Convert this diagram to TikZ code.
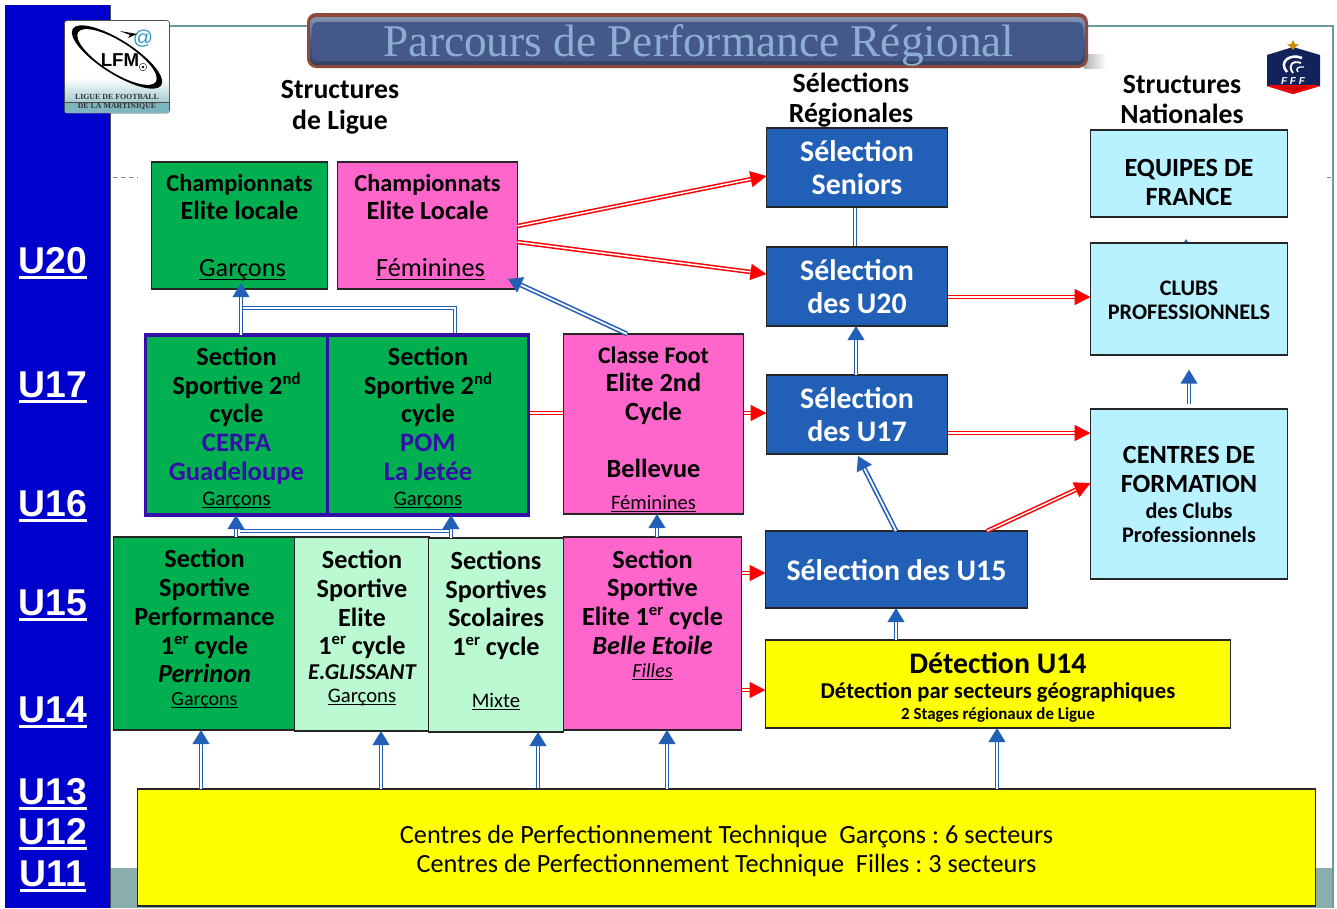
\documentclass[tikz,border=0pt]{standalone}
\usepackage{fontspec}
\setmainfont{Carlito}
\newfontfamily\arl{Liberation Sans}
\newfontfamily\tms{Liberation Serif}
\usetikzlibrary{arrows.meta,calc,shapes.geometric,shadings}
\pgfdeclarelayer{back}\pgfdeclarelayer{under}
\pgfsetlayers{back,under,main}
\definecolor{stripblue}{HTML}{0000CC}
\definecolor{mblue}{HTML}{225FB6}
\definecolor{lgreen}{HTML}{00B050}
\definecolor{pgreen}{HTML}{BBF9D2}
\definecolor{mpink}{HTML}{FF66CC}
\definecolor{mcyan}{HTML}{B8F1FF}
\definecolor{mpurple}{HTML}{3410A8}
\definecolor{band}{HTML}{8CADAD}
\definecolor{frameline}{HTML}{6E9A9A}
\definecolor{titlefill}{HTML}{44598A}
\definecolor{titletext}{HTML}{8CAED3}
\definecolor{titleedge}{HTML}{8E4B3A}
\definecolor{navy}{HTML}{12235B}
\definecolor{myel}{HTML}{FFFF00}
\definecolor{mred}{HTML}{FF0000}
\definecolor{logoband}{HTML}{7FB5BE}
\newdimen\bxu \bxu=0.75pt
\newcommand\fs[1]{\fontsize{#1}{#1}\selectfont}
\newcommand\Ln[2]{\vskip#1\bxu\hbox to 0pt{\hss\smash{#2}\hss}}
\newcommand\ulx[1]{\setbox0=\hbox{#1}\rlap{\rule[-0.16em]{\wd0}{0.055em}}\box0}
\newcommand\ulage[1]{\setbox0=\hbox{#1}\rlap{\rule[-4.2pt]{\wd0}{2.2pt}}\box0}
\newcommand\sups[1]{\raisebox{0.36em}{\fontsize{12.5}{12}\selectfont #1}}
\newcommand\bx[8]{%
  \pgfmathsetlengthmacro{\bxdy}{(#7+1-(#3+#5)/2)*0.75pt}%
  \node[box,#6,minimum width={(#4-#2)*0.75pt},minimum height={(#5-#3)*0.75pt}] (#1) at ({(#2+#4-1)/2},{(#3+#5)/2})
    {\raisebox{-\bxdy}[0pt][0pt]{\vtop{\hsize=0pt\offinterlineskip\frenchspacing#8}}};}
\tikzset{
  box/.style={draw=black!85,line width=0.9pt,inner sep=0pt,outer sep=0pt,font=\fs{19.7}\bfseries,text=black},
  green/.style={fill=lgreen},
  pale/.style={fill=pgreen},
  pink/.style={fill=mpink},
  cyanb/.style={fill=mcyan},
  yel/.style={fill=myel},
  sel/.style={fill=mblue,text=white,font=\fs{22.4}\bfseries},
  sect/.style={fill=lgreen,draw=mpurple,line width=2.6pt},
  head/.style={inner sep=0pt,align=center,font=\fs{20.8}\bfseries},
  age/.style={inner sep=0pt,anchor=base,text=white,font=\fs{28}\arl\bfseries},
  bbase/.style={draw=mblue,line width=1.2pt,double=white,double distance=1.3pt},
  bl/.style={bbase,-{Triangle[length=10.5pt,width=12.5pt,fill=mblue]}},
  rbase/.style={draw=mred,line width=1.15pt,double=white,double distance=1.1pt},
  rl/.style={rbase,-{Triangle[length=12pt,width=12pt,fill=mred]}},
  x=0.75pt,y=-0.75pt
}
\begin{document}
\begin{tikzpicture}
\useasboundingbox (0,0) rectangle (1337,908);
\begin{pgfonlayer}{back}
\fill[white] (0,0) rectangle (1337,908);
\fill[band] (110,868) rectangle (1333,908);
\draw[frameline,line width=0.8pt] (170,26) -- (1333,26) -- (1333,908);
\fill[stripblue] (5,5) rectangle (110,908);
\draw[black!70,line width=0.6pt] (110.5,5) -- (110.5,908);
\draw[gray,dashed,line width=0.5pt] (113,177) -- (138,177);
\draw[gray,dashed,line width=0.5pt] (1327,177) -- (1333,177);
\shade[left color=gray!60,right color=white] (1084,54) rectangle (1106,68);
\end{pgfonlayer}
% title
\fill[titleedge,rounded corners=7pt] (307,13) rectangle (1088,68);
\shade[rounded corners=5pt,top color=titlefill!65!white,bottom color=titlefill!75!black,middle color=titlefill] (310,17) rectangle (1085,65);
\fill[titlefill,rounded corners=4pt] (312,22) rectangle (1083,61);
\node[inner sep=0pt,anchor=base,text=titletext,font=\tms\fontsize{34}{34}\selectfont] (title) at (699,56.5) {Parcours de Performance Régional};
% LFM logo
\draw[black!70,line width=0.5pt,rounded corners=2pt,fill=white] (64.5,20.5) rectangle (169.5,113);
\shade[top color=white,bottom color=logoband!70!white] (65,78) rectangle (169,102);
\fill[logoband] (65,102) rectangle (169,112.5);
\draw[black!70,line width=0.4pt] (65,102) -- (169,102);
\fill[black,rotate around={-32.5:(117,57)}] (117,57) ellipse (52.5 and 17);
\fill[white,rotate around={-32.5:(117,57)}] (117,57) ellipse (46 and 15.2);
\node[inner sep=0pt,font=\arl\bfseries\fontsize{14}{14}\selectfont] (lfm) at (120,60) {LFM};
\node[inner sep=0pt,text=cyan!60!teal,font=\arl\fontsize{15}{15}\selectfont] (at) at (143,39) {@};
\fill[black] (120,31) -- (137,34) -- (128,38) -- (130,35) -- cycle;
\draw[black,line width=0.3pt,fill=white] (143,67) circle (3.8);
\fill[black] (143,67) circle (1.3);
\node[inner sep=0pt,font=\tms\bfseries\fontsize{5.9}{6}\selectfont,text=black!80] (lg1) at (117,97) {LIGUE DE FOOTBALL};
\node[inner sep=0pt,font=\tms\bfseries\fontsize{5.9}{6}\selectfont,text=black!80] (lg2) at (117,107) {DE LA MARTINIQUE};
% FFF logo
\fill[navy] (1293,47) -- (1320,55) -- (1320,86) -- (1293,94) -- (1267,86) -- (1267,55) -- cycle;
\fill[mred] (1267,86) -- (1293,94) -- (1320,86) -- (1316,85) -- (1271,85) -- cycle;
\fill[red!80!black] (1276,86) -- (1310,86) -- (1293,92) -- cycle;
\fill[orange!60!yellow!80!black] (1293,40) -- (1295,44) -- (1299,44.5) -- (1295.5,47) -- (1293,50) -- (1290.5,47) -- (1287,44.5) -- (1291,44) -- cycle;
\draw[white,line width=1.9pt] (1287,72) .. controls (1278,62) and (1290,53) .. (1302,58);
\draw[white,line width=1.4pt] (1293,73) .. controls (1287,65) and (1293,60) .. (1301,63);
\draw[white,line width=1pt] (1298,72) .. controls (1295,69) and (1298,66) .. (1304,67);
\node[inner sep=0pt,text=white,font=\arl\bfseries\itshape\fontsize{7.5}{7.5}\selectfont] (fff) at (1293,81) {F F F};
% headings
\node[head] (h1) at (340,107) {Structures\\[2.4pt]de Ligue};
\node[head] (h2) at (851,100) {Sélections\\[1.7pt]Régionales};
\node[head] (h3) at (1182,100) {Structures\\[1.7pt]Nationales};
% ages
\node[age] (u20) at (53,273) {\ulage{U20}};
\node[age] (u17) at (53,397) {\ulage{U17}};
\node[age] (u16) at (53,516) {\ulage{U16}};
\node[age] (u15) at (53,615) {\ulage{U15}};
\node[age] (u14) at (53,722) {\ulage{U14}};
\node[age] (u13) at (53,804) {\ulage{U13}};
\node[age] (u12) at (53,844) {\ulage{U12}};
\node[age] (u11) at (53,886) {\ulage{U11}};
% boxes
\bx{chG}{152}{162}{328}{289}{green}{190}{\Ln{0}{\fs{18.3}Championnats}\Ln{28}{Elite locale}\Ln{57}{\hspace*{6\bxu}\mdseries\ulx{Garçons}}}
\bx{chF}{338}{162}{518}{289}{pink}{190}{\Ln{0}{\fs{18.3}Championnats}\Ln{28}{Elite Locale}\Ln{57}{\hspace*{6\bxu}\mdseries\ulx{Féminines}}}
\bx{Sa}{146}{335}{328}{515}{sect}{364}{\Ln{0}{Section}\Ln{29}{Sportive 2\sups{nd}}\Ln{28}{cycle}\Ln{29}{\color{mpurple}\fs{20}CERFA}\Ln{29}{\color{mpurple}\fs{20}Guadeloupe}\Ln{25}{\fs{15.5}\mdseries\ulx{Garçons}}}
\bx{Sb}{328}{335}{529}{515}{sect}{364}{\Ln{0}{Section}\Ln{29}{Sportive 2\sups{nd}}\Ln{28}{cycle}\Ln{29}{\color{mpurple}\fs{20}POM}\Ln{29}{\color{mpurple}\fs{20}La Jetée}\Ln{25}{\fs{15.5}\mdseries\ulx{Garçons}}}
\bx{Cl}{564}{334}{744}{514}{pink}{362}{\Ln{0}{\fs{17.8}Classe Foot}\Ln{28}{Elite 2nd}\Ln{29}{Cycle}\Ln{57}{Bellevue}\Ln{32}{\fs{15.4}\mdseries\ulx{Féminines}}}
\bx{SP}{114}{537}{296}{730}{green}{566}{\Ln{0}{Section}\Ln{29}{Sportive}\Ln{29}{Performance}\Ln{29}{1\sups{er} cycle}\Ln{28}{\itshape Perrinon}\Ln{23}{\fs{15}\mdseries\ulx{Garçons}}}
\bx{SE}{295}{537}{430}{731}{pale}{567}{\Ln{0}{Section}\Ln{29}{Sportive}\Ln{29}{Elite}\Ln{28}{1\sups{er} cycle}\Ln{25}{\fs{17}\itshape E.GLISSANT}\Ln{23}{\fs{15.5}\mdseries\ulx{Garçons}}}
\bx{SS}{429}{538}{564}{732}{pale}{568}{\Ln{0}{Sections}\Ln{29}{Sportives}\Ln{28}{Scolaires}\Ln{29}{1\sups{er} cycle}\Ln{52}{\fs{15.5}\mdseries\ulx{Mixte}}}
\bx{BE}{564}{537}{742}{730}{pink}{567}{\Ln{0}{Section}\Ln{28}{Sportive}\Ln{29}{Elite 1\sups{er} cycle}\Ln{29}{\itshape Belle Etoile}\Ln{23}{\fs{15}\mdseries\itshape\ulx{Filles}}}
\bx{SSen}{767}{128}{948}{207}{sel}{160}{\Ln{0}{Sélection}\Ln{33}{Seniors}}
\bx{SU20}{767}{247}{948}{326}{sel}{279}{\Ln{0}{Sélection}\Ln{33}{des U20}}
\bx{SU17}{767}{375}{948}{454}{sel}{407}{\Ln{0}{Sélection}\Ln{33}{des U17}}
\bx{SU15}{766}{531}{1028}{608}{sel}{579}{\Ln{0}{Sélection des U15}}
\bx{EQ}{1091}{130}{1288}{217}{cyanb}{175}{\Ln{0}{EQUIPES DE}\Ln{29}{FRANCE}}
\bx{CP}{1091}{243}{1288}{355}{cyanb}{294}{\Ln{0}{\fs{16.7}CLUBS}\Ln{24}{\fs{16.7}PROFESSIONNELS}}
\bx{CFo}{1091}{409}{1288}{579}{cyanb}{462}{\Ln{0}{CENTRES DE}\Ln{29}{FORMATION}\Ln{26}{\fs{16.7}des Clubs}\Ln{24}{\fs{16.7}Professionnels}}
\bx{Det}{766}{640}{1231}{728}{yel}{672}{\Ln{0}{\fs{22.4}Détection U14}\Ln{25}{\fs{17}Détection par secteurs géographiques}\Ln{21}{\fs{12.7}2 Stages régionaux de Ligue}}
\bx{Base}{138}{789}{1316}{906}{yel}{842}{\Ln{0}{\mdseries Centres de Perfectionnement Technique\ \ Garçons : 6 secteurs}\Ln{29}{\mdseries Centres de Perfectionnement Technique\ \ Filles : 3 secteurs}}
% free ends
\coordinate (j1) at (243,308);
\coordinate (j2) at (240,531);
\coordinate (j3) at (451,531);
\coordinate (tF) at (508,279);
\coordinate (tG) at (241,283);
\coordinate (tS17) at (858,456);
\coordinate (tEQ) at (1186,239);
% connectors under the boxes
\begin{pgfonlayer}{under}
\draw[bl] (CP.north -| 1186,0) -- (tEQ);
\draw[bbase] (SU20.north -| 855,0) -- (SSen.south -| 855,0);
\draw[bl] (Base.north -| 538,0) -- (SS.south -| 538,0);
\draw[bbase] (Sb.north -| 455,0) |- (j1);
\draw[rbase] (Sb.east |- 0,413) -- (Cl.west |- 0,413);
\end{pgfonlayer}
% connectors
\draw[bl] (Sa.north -| 241,0) -- (tG);
\draw[bl] (Cl.north -| 627,0) -- (tF);
\draw[bbase] (j2) -- (j3);
\draw[bl] (SP.north -| 236,0) -- (Sa.south -| 236,0);
\draw[bl] (SS.north -| 451,0) -- (Sb.south -| 451,0);
\draw[bl] (BE.north -| 657,0) -- (Cl.south -| 657,0);
\draw[bl] (Base.north -| 201,0) -- (SP.south -| 201,0);
\draw[bl] (Base.north -| 381,0) -- (SE.south -| 381,0);
\draw[bl] (Base.north -| 667,0) -- (BE.south -| 667,0);
\draw[bl] (Base.north -| 997,0) -- (Det.south -| 997,0);
\draw[bl] (Det.north -| 896,0) -- (SU15.south -| 896,0);
\draw[bl] (SU15.north -| 896,0) -- (tS17);
\draw[bl] (SU17.north -| 856,0) -- (SU20.south -| 856,0);
\draw[bl,shorten <=4pt,shorten >=11pt] (CFo.north -| 1189,0) -- (CP.south -| 1189,0);
\draw[rl] (chF.east |- 0,226) -- (SSen.west |- 0,176);
\draw[rl] (chF.east |- 0,242) -- (SU20.west |- 0,274);
\draw[rl] (SU20.east |- 0,297) -- (CP.west |- 0,297);
\draw[rl] (SU17.east |- 0,433) -- (CFo.west |- 0,433);
\draw[rl] (SU15.north -| 987,0) -- (CFo.west |- 0,483);
\draw[rl] (Cl.east |- 0,413) -- (SU17.west |- 0,413);
\draw[rl] (BE.east |- 0,573) -- (SU15.west |- 0,573);
\draw[rl] (BE.east |- 0,690) -- (Det.west |- 0,690);
\end{tikzpicture}
\end{document}
